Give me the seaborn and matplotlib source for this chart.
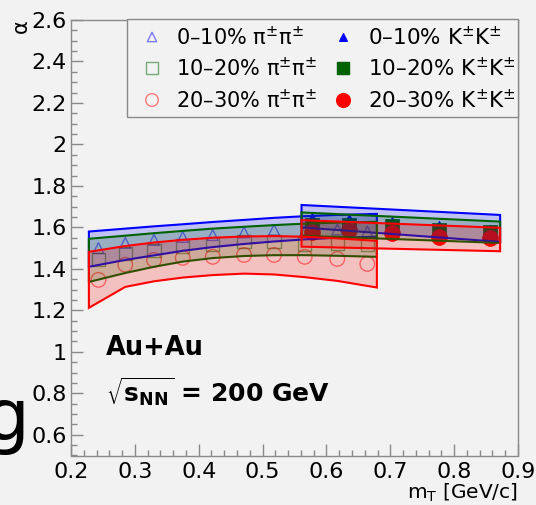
import numpy as np
import matplotlib
matplotlib.use("Agg")
import matplotlib.pyplot as plt
from matplotlib.ticker import MultipleLocator, FuncFormatter
import seaborn as sns

# ---- data -------------------------------------------------------------
# pion-pair points (open markers)
mt_pi = [0.243, 0.285, 0.330, 0.375, 0.422, 0.471, 0.518, 0.566, 0.617, 0.664]
alpha_pi_0_10 = [1.500, 1.525, 1.540, 1.554, 1.563, 1.576, 1.588, 1.580, 1.590, 1.580]
alpha_pi_10_20 = [1.445, 1.475, 1.490, 1.510, 1.520, 1.530, 1.530, 1.520, 1.525, 1.520]
alpha_pi_20_30 = [1.347, 1.420, 1.443, 1.453, 1.458, 1.467, 1.467, 1.458, 1.448, 1.424]

# kaon-pair points (full markers)
mt_k = [0.577, 0.635, 0.702, 0.776, 0.856]
alpha_k_0_10 = [1.650, 1.645, 1.632, 1.612, 1.593]
alpha_k_10_20 = [1.612, 1.612, 1.605, 1.588, 1.578]
alpha_k_20_30 = [1.578, 1.588, 1.573, 1.554, 1.549]

# systematic bands, pions
mt_pi_band = [0.228, 0.285, 0.330, 0.375, 0.422, 0.471, 0.518, 0.566, 0.617, 0.679]
pi_0_10_lo = [1.410, 1.443, 1.465, 1.487, 1.505, 1.520, 1.532, 1.542, 1.550, 1.555]
pi_0_10_hi = [1.580, 1.594, 1.605, 1.615, 1.626, 1.636, 1.646, 1.654, 1.660, 1.665]
pi_10_20_lo = [1.337, 1.380, 1.410, 1.435, 1.452, 1.462, 1.466, 1.466, 1.463, 1.458]
pi_10_20_hi = [1.545, 1.560, 1.572, 1.583, 1.594, 1.603, 1.611, 1.618, 1.623, 1.627]
pi_20_30_lo = [1.212, 1.313, 1.340, 1.358, 1.370, 1.377, 1.373, 1.360, 1.342, 1.310]
pi_20_30_hi = [1.482, 1.510, 1.527, 1.540, 1.550, 1.556, 1.558, 1.555, 1.547, 1.535]

# systematic bands, kaons
mt_k_band = [0.561, 0.872]
k_0_10_lo = [1.600, 1.530]
k_0_10_hi = [1.708, 1.660]
k_10_20_lo = [1.560, 1.525]
k_10_20_hi = [1.672, 1.628]
k_20_30_lo = [1.507, 1.485]
k_20_30_hi = [1.635, 1.598]

centralities = ["0\u201310%", "10\u201320%", "20\u201330%"]
x_ticks = [0.2, 0.3, 0.4, 0.5, 0.6, 0.7, 0.8, 0.9]
y_ticks = [0.6, 0.8, 1.0, 1.2, 1.4, 1.6, 1.8, 2.0, 2.2, 2.4, 2.6]

# ---- style ------------------------------------------------------------
BG = "#f2f2f2"
FRAME = "#8a8a8a"
BLUE = (0.0, 0.0, 1.0)
GREEN = (0.0, 0.39, 0.0)
RED = (1.0, 0.0, 0.0)

sns.set_style("ticks")
plt.rcParams["font.family"] = ["DejaVu Sans"]
plt.rcParams["mathtext.fontset"] = "dejavusans"
plt.rcParams["text.color"] = "black"
plt.rcParams["axes.labelcolor"] = "black"

W, H = 536, 505
fig = plt.figure(figsize=(W / 100, H / 100), dpi=100, facecolor=BG)
ax = fig.add_axes([71 / W, 1 - 455.5 / H, (518 - 71) / W, (455.5 - 20) / H])
ax.set_facecolor(BG)

# ---- markers ----------------------------------------------------------
pi_series = [alpha_pi_0_10, alpha_pi_10_20, alpha_pi_20_30]
k_series = [alpha_k_0_10, alpha_k_10_20, alpha_k_20_30]
colors = [BLUE, GREEN, RED]
markers = ["^", "s", "o"]
pi_sizes = [60, 90, 110]
k_sizes = [40, 90, 130]

for ys, c, m, s in zip(pi_series, colors, markers, pi_sizes):
    sns.scatterplot(x=mt_pi, y=ys, marker=m, s=s, facecolors="none",
                    edgecolor=c, linewidth=1.0, alpha=0.5, ax=ax, zorder=2)
for ys, c, m, s in zip(k_series, colors, markers, k_sizes):
    sns.scatterplot(x=mt_k, y=ys, marker=m, s=s, color=c, edgecolor=c,
                    linewidth=0.5, ax=ax, zorder=3)

# ---- bands ------------------------------------------------------------
def band(xs, lo, hi, c, z):
    xs = np.asarray(xs)
    px = np.concatenate([xs, xs[::-1]])
    py = np.concatenate([np.asarray(lo), np.asarray(hi)[::-1]])
    ax.fill(px, py, facecolor=(*c, 0.2), edgecolor=c, linewidth=1.5,
            joinstyle="miter", zorder=z)

pi_bands = [(pi_0_10_lo, pi_0_10_hi), (pi_10_20_lo, pi_10_20_hi),
            (pi_20_30_lo, pi_20_30_hi)]
k_bands = [(k_0_10_lo, k_0_10_hi), (k_10_20_lo, k_10_20_hi),
           (k_20_30_lo, k_20_30_hi)]
for i, c in enumerate(colors):
    band(mt_pi_band, *pi_bands[i], c, 4 + i)
    band(mt_k_band, *k_bands[i], c, 4 + i)

# ---- axes -------------------------------------------------------------
ax.set_xlim(0.2, 0.9)
ax.set_ylim(0.5, 2.6)
ax.set_xticks(x_ticks)
ax.set_yticks(y_ticks)
ax.xaxis.set_minor_locator(MultipleLocator(0.02))
ax.yaxis.set_minor_locator(MultipleLocator(0.05))
fmt = FuncFormatter(lambda v, p: f"{v:g}")
ax.xaxis.set_major_formatter(fmt)
ax.yaxis.set_major_formatter(fmt)
ax.tick_params(axis="both", which="both", direction="in", color=FRAME,
               width=1.0, labelsize=16, labelcolor="black",
               top=False, right=False)
ax.tick_params(axis="both", which="major", length=8.6)
ax.tick_params(axis="both", which="minor", length=4.3)
ax.tick_params(axis="y", which="major", pad=3)
ax.tick_params(axis="x", which="major", pad=5)
for sp in ax.spines.values():
    sp.set_color(FRAME)
    sp.set_linewidth(1.0)
    sp.set_visible(True)

fig.text(518 / W, 1 - 493 / H, r"m$_{\rm T}$ [GeV/c]", ha="right",
         va="center", fontsize=14.5)
fig.text(21 / W, 1 - 26 / H, "\u03b1", rotation=90, ha="center",
         va="center", fontsize=15)

# ---- legend -----------------------------------------------------------
def ax_pt(px, py):
    return (px - 71) / 447, (455.5 - py) / 435.5

x0, y1 = ax_pt(127, 19)
x1, y0 = ax_pt(518, 117)
ax.add_patch(plt.Rectangle((x0, y0), x1 - x0, y1 - y0, transform=ax.transAxes,
                           facecolor=BG, edgecolor=FRAME, linewidth=1.0,
                           zorder=10, clip_on=False))
rows = [37, 68, 100]
for i, (lab, c, m) in enumerate(zip(centralities, colors, markers)):
    mx, my = ax_pt(152, rows[i])
    ax.scatter([mx], [my], marker=m, s=pi_sizes[i] * 0.75, facecolors="none",
               edgecolors=c, linewidths=1.0, alpha=0.5,
               transform=ax.transAxes, zorder=11, clip_on=False)
    tx, ty = ax_pt(176, rows[i])
    ax.text(tx, ty, lab + r" $\mathrm{\pi}^{\pm}\mathrm{\pi}^{\pm}$",
            transform=ax.transAxes, ha="left", va="center", fontsize=15,
            zorder=11)
    mx, my = ax_pt(343, rows[i])
    ax.scatter([mx], [my], marker=m, s=k_sizes[i] * 0.75, color=c,
               transform=ax.transAxes, zorder=11, clip_on=False)
    tx, ty = ax_pt(368, rows[i])
    ax.text(tx, ty, lab + r" K$^{\pm}$K$^{\pm}$", transform=ax.transAxes,
            ha="left", va="center", fontsize=15.5, zorder=11, clip_on=True)

# ---- annotations ------------------------------------------------------
fig.text(106 / W, 1 - 355 / H, "Au+Au", ha="left", va="baseline",
         fontsize=18.5, fontweight="bold")
fig.text(106 / W, 1 - 403 / H, r"$\sqrt{\mathbf{s}_{\mathbf{NN}}}$ = 200 GeV",
         ha="left", va="baseline", fontsize=18, fontweight="bold")
fig.text(30 / W, 1 - 440 / H, "g", ha="right", va="baseline", fontsize=52)

fig.savefig("out.png", dpi=100, facecolor=BG)
